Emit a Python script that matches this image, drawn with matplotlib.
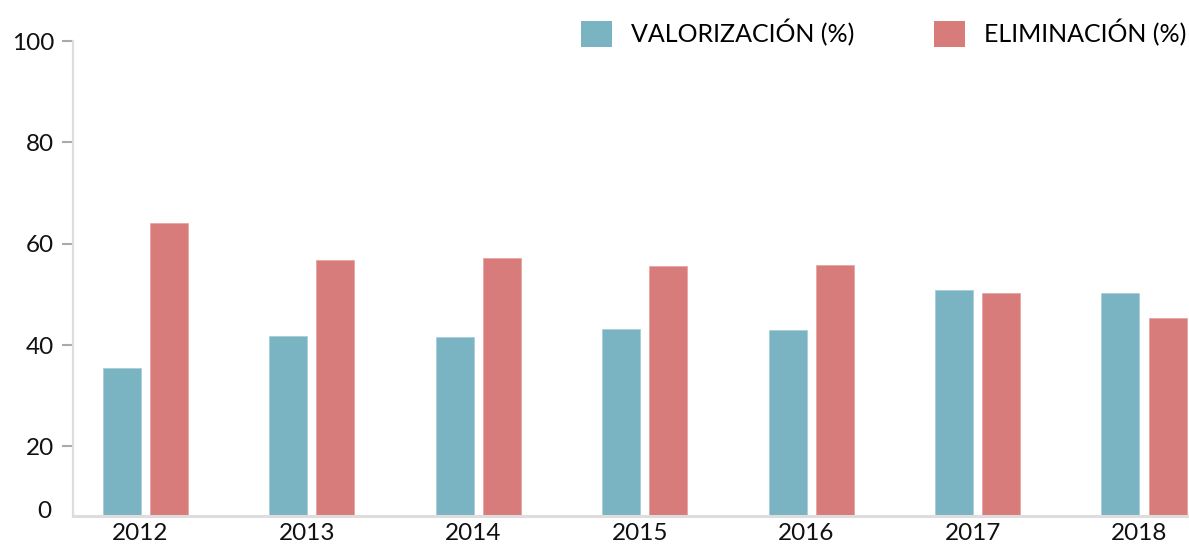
import matplotlib
matplotlib.use("Agg")
import matplotlib.pyplot as plt
import numpy as np
from matplotlib.patches import Patch

years = ["2012", "2013", "2014", "2015", "2016", "2017", "2018"]
valorizacion = [35.4, 41.8, 41.5, 43.1, 43.0, 50.9, 50.3]
eliminacion = [64.0, 56.8, 57.1, 55.5, 55.7, 50.3, 45.3]
series_names = ["VALORIZACIÓN (%)", "ELIMINACIÓN (%)"]
y_ticks = [20, 40, 60, 80, 100]
colors = ["#7ab3c1", "#d77c7b"]

FONT = ["Lato", "DejaVu Sans"]
plt.rcParams["font.family"] = FONT
FS = 17.5
LFS = 18.0
LEM = LFS * 100 / 72  # px per em for legend

fig = plt.figure(figsize=(11.89, 5.45), dpi=100)
ax = fig.add_axes([72.7 / 1189, 1 - 516 / 545, 1 - 72.7 / 1189, (516 - 41) / 545])

x = np.arange(len(years))
w = 0.228
off = 0.1417
ax.bar(x - off, valorizacion, width=w, color=colors[0], edgecolor="#a9cfd8", linewidth=0.6)
ax.bar(x + off, eliminacion, width=w, color=colors[1], edgecolor="#e6a6a5", linewidth=0.6)

ax.set_xlim(-0.436, 6.27)
ax.set_ylim(6.25, 100)

for s in ["top", "right"]:
    ax.spines[s].set_visible(False)
ax.spines["left"].set_color("#dddddd")
ax.spines["left"].set_linewidth(1.6)
ax.spines["bottom"].set_color("#dddddd")
ax.spines["bottom"].set_linewidth(2.2)

ax.set_yticks(y_ticks)
ax.set_yticklabels([str(v) for v in y_ticks], fontsize=FS, color="#111111")
ax.tick_params(axis="y", length=8, width=1.5, color="#aaaaaa", pad=5.5)
ax.set_xticks(x - 0.03)
ax.set_xticklabels(years, fontsize=FS, color="#111111")
ax.tick_params(axis="x", length=0, pad=5)

ax.annotate("0", xy=(0, 6.25), xycoords=ax.get_yaxis_transform(),
            xytext=(-21, 5), textcoords="offset pixels",
            ha="right", va="center", fontsize=FS, color="#111111")

handles = [Patch(facecolor=colors[0], edgecolor="none"),
           Patch(facecolor=colors[1], edgecolor="none")]
fig.legend(handles, series_names, loc="center right", bbox_to_anchor=(1.0, 1 - 33 / 545),
           ncol=2, frameon=False, fontsize=LFS, handlelength=31 / LEM, handleheight=31 / LEM,
           handletextpad=19 / LEM, columnspacing=80 / LEM, borderaxespad=0, borderpad=0.1)

fig.savefig("out.png", dpi=100)
